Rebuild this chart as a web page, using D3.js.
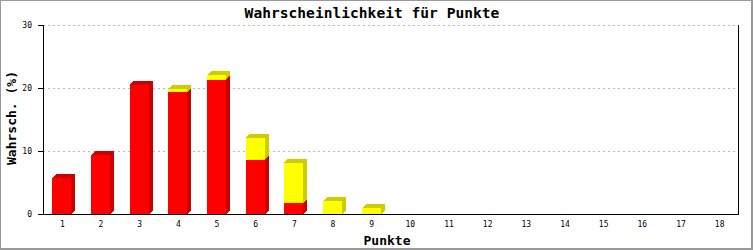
<!DOCTYPE html>
<html>
<head>
<meta charset="utf-8">
<script src="https://cdn.jsdelivr.net/npm/d3@7"></script>
<style>
  body { margin: 0; background: #fff; }
  svg { display: block; }
  text { font-family: "DejaVu Sans Mono", "Liberation Mono", monospace; fill: #000; }
</style>
</head>
<body>
<div id="chart"></div>
<script>
// values, percent per point count
var categories = ['1','2','3','4','5','6','7','8','9','10','11','12','13','14','15','16','17','18']
var redValues = [5.7, 9.3, 20.5, 19.3, 21.3, 8.6, 1.7, 0, 0, 0, 0, 0, 0, 0, 0, 0, 0, 0]
var yellowValues = [0, 0, 0, 0.5, 0.7, 3.5, 6.4, 2.0, 0.9, 0, 0, 0, 0, 0, 0, 0, 0, 0]
var yTicks = [0, 10, 20, 30]

var width = 753, height = 250
// note: "top" is taken by window.top, so plot edges get their own names
var plotLeft = 43, plotRight = 739, plotTop = 25, plotBottom = 214
var depthX = 4, depthY = 4, barW = 19

var svg = d3.select('#chart').append('svg')
  .attr('width', width).attr('height', height)

// outer frame
svg.append('rect').attr('x', 0).attr('y', 0).attr('width', width).attr('height', 1).attr('fill', '#999')
svg.append('rect').attr('x', 0).attr('y', 0).attr('width', 1).attr('height', height).attr('fill', '#999')
svg.append('rect').attr('x', 751).attr('y', 0).attr('width', 2).attr('height', height).attr('fill', '#999')
svg.append('rect').attr('x', 0).attr('y', 248).attr('width', width).attr('height', 2).attr('fill', '#999')

var x = d3.scaleBand().domain(categories).range([plotLeft, plotRight]).padding(0)
var y = d3.scaleLinear().domain([0, 30]).range([plotBottom, plotTop])

// grid
svg.append('g').selectAll('line').data(yTicks.filter(function(t) { return t > 0 }))
  .enter().append('line')
  .attr('x1', plotLeft).attr('x2', plotRight)
  .attr('y1', function(d) { return y(d) + 0.5 }).attr('y2', function(d) { return y(d) + 0.5 })
  .attr('stroke', '#bbb').attr('stroke-dasharray', '2,3')

// 3d bars, red then yellow stacked on it
var bars = svg.append('g').attr('shape-rendering', 'crispEdges')
function drawBlock(x0, y0, y1, front, side) {
  if (y0 - y1 <= 0) return
  bars.append('polygon')
    .attr('points', [[x0 + barW, y0], [x0 + barW + depthX, y0 - depthY], [x0 + barW + depthX, y1 - depthY], [x0 + barW, y1]].join(' '))
    .attr('fill', side)
  bars.append('polygon')
    .attr('points', [[x0, y1], [x0 + depthX, y1 - depthY], [x0 + barW + depthX, y1 - depthY], [x0 + barW, y1]].join(' '))
    .attr('fill', side)
  bars.append('rect')
    .attr('x', x0).attr('y', y1).attr('width', barW).attr('height', y0 - y1)
    .attr('fill', front)
}
categories.forEach(function(c, i) {
  var x0 = Math.round(x(c) + x.bandwidth() / 2 - 10)
  var r = redValues[i], yl = yellowValues[i]
  drawBlock(x0, y(0), y(r), '#ff0000', '#cc0000')
  drawBlock(x0, y(r), y(r + yl), '#ffff00', '#cccc00')
})

// axes
svg.append('g').attr('transform', 'translate(' + plotLeft + ',0)')
  .call(d3.axisLeft(y).tickValues(yTicks).tickSize(5).tickSizeOuter(0).tickPadding(6))
svg.append('g').attr('transform', 'translate(0,' + plotBottom + ')')
  .call(d3.axisBottom(x).tickSize(0).tickPadding(7))
svg.selectAll('.domain').remove()
svg.selectAll('.tick line').attr('stroke', '#000')
svg.selectAll('.tick text').style('font-size', '8px').style('font-family', '"DejaVu Sans Mono", monospace')

svg.append('line').attr('x1', plotLeft + 0.5).attr('x2', plotLeft + 0.5).attr('y1', plotTop).attr('y2', plotBottom + 1).attr('stroke', '#000')
svg.append('line').attr('x1', plotRight - 0.5).attr('x2', plotRight - 0.5).attr('y1', plotTop).attr('y2', plotBottom + 1).attr('stroke', '#000')
svg.append('line').attr('x1', plotLeft).attr('x2', plotRight).attr('y1', plotBottom + 0.5).attr('y2', plotBottom + 0.5).attr('stroke', '#000')

// titles
svg.append('text').attr('x', 372).attr('y', 18).attr('text-anchor', 'middle')
  .style('font-size', '14.6px').style('font-weight', 'bold')
  .text('Wahrscheinlichkeit für Punkte')
svg.append('text').attr('transform', 'translate(16,118) rotate(-90)').attr('text-anchor', 'middle')
  .style('font-size', '13px').style('font-weight', 'bold')
  .text('Wahrsch. (%)')
svg.append('text').attr('x', 387).attr('y', 245).attr('text-anchor', 'middle')
  .style('font-size', '13px').style('font-weight', 'bold')
  .text('Punkte')
</script>
</body>
</html>
